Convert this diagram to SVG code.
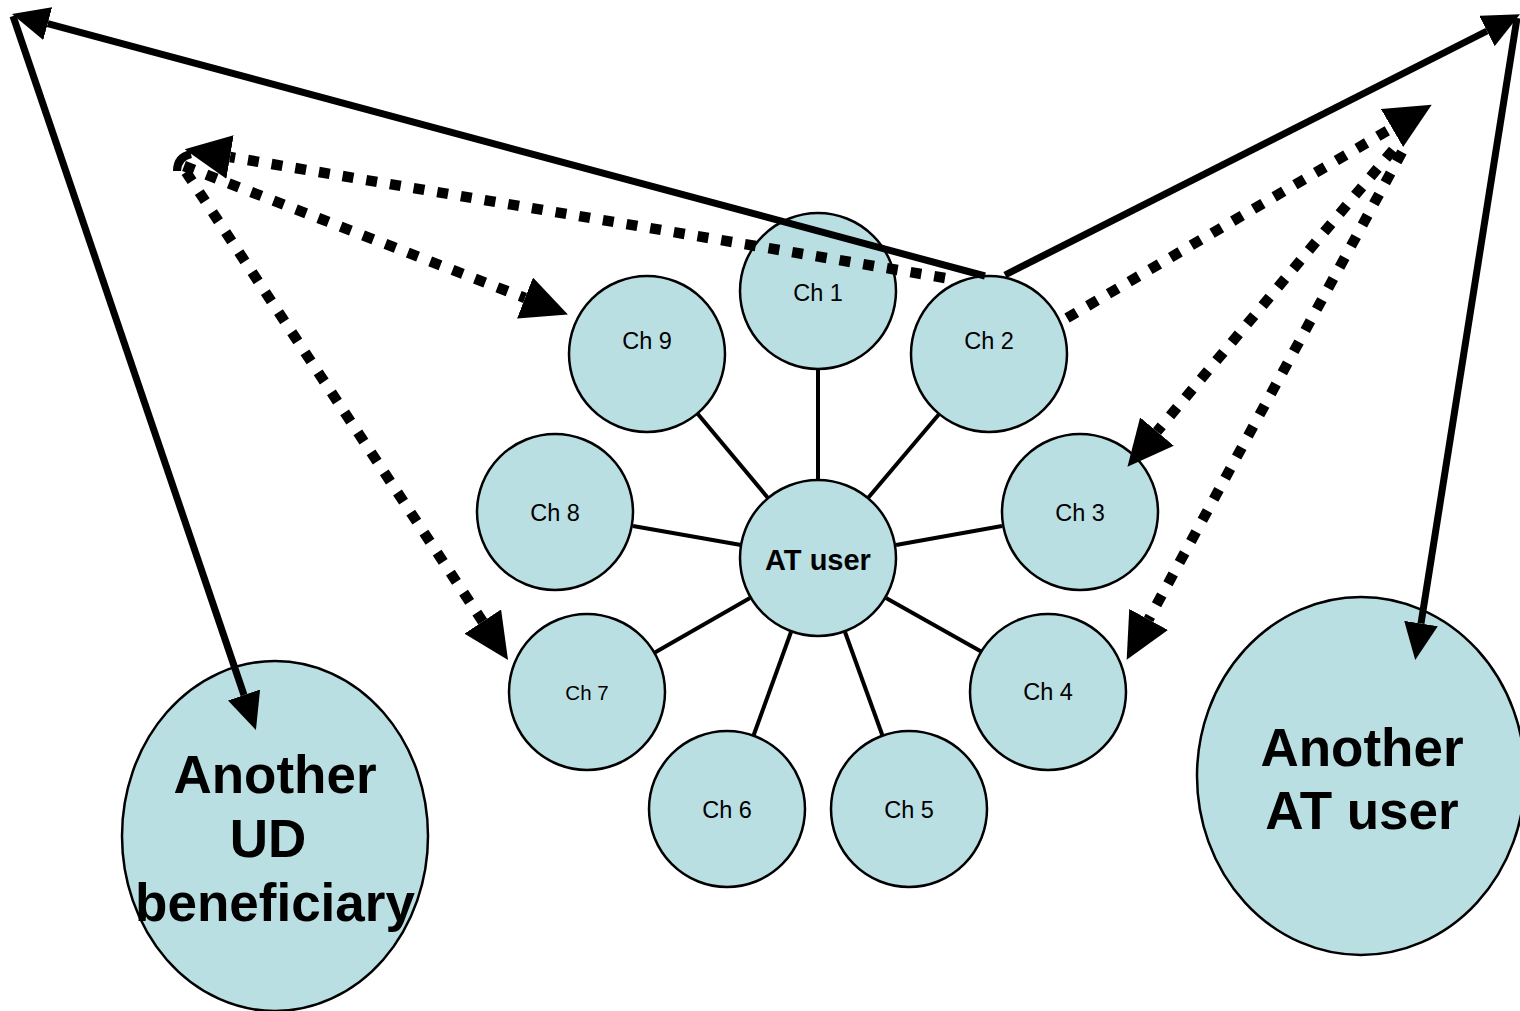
<svg xmlns="http://www.w3.org/2000/svg" width="1520" height="1011" viewBox="0 0 1520 1011">
<style>
.node{fill:#b9dfe2;stroke:#000;stroke-width:2.5}
.lbl{font-family:"Liberation Sans",Arial,sans-serif;font-size:23.5px;fill:#000;text-anchor:middle}
.big{font-family:"Liberation Sans",Arial,sans-serif;font-size:53px;font-weight:bold;fill:#000;text-anchor:middle}
.spoke{stroke:#000;stroke-width:4;fill:none}
.solid{stroke:#000;stroke-width:7;fill:none}
.dot{stroke:#000;stroke-width:10.5;fill:none;stroke-dasharray:11 13}
</style>
<defs>
<marker id="ah" markerUnits="userSpaceOnUse" orient="auto" markerWidth="37" markerHeight="34" viewBox="0 0 37 34" refX="0" refY="17"><path d="M0,0 L37,17 L0,34 Z" fill="#000"/></marker>
<marker id="ahd" markerUnits="userSpaceOnUse" orient="auto" markerWidth="46" markerHeight="44" viewBox="0 0 46 44" refX="0" refY="22"><path d="M0,0 L46,22 L0,44 Z" fill="#000"/></marker>
</defs>
<rect width="1520" height="1011" fill="#fff"/>
<g id="spokes">
<line class="spoke" x1="818" y1="369" x2="818" y2="480"/>
<line class="spoke" x1="940" y1="413" x2="868" y2="498"/>
<line class="spoke" x1="697" y1="413" x2="768" y2="498"/>
<line class="spoke" x1="633" y1="526" x2="741" y2="545"/>
<line class="spoke" x1="1002" y1="526" x2="896" y2="545"/>
<line class="spoke" x1="654" y1="653" x2="750" y2="598"/>
<line class="spoke" x1="982" y1="652" x2="886" y2="598"/>
<line class="spoke" x1="753" y1="737" x2="791" y2="632"/>
<line class="spoke" x1="883" y1="737" x2="845" y2="632"/>
</g>
<g id="ch1"><circle class="node" cx="818" cy="291" r="78"/><text class="lbl" x="818" y="301">Ch 1</text></g>
<g id="ch2"><circle class="node" cx="989" cy="354" r="78"/><text class="lbl" x="989" y="349">Ch 2</text></g>
<g id="ch9"><circle class="node" cx="647" cy="354" r="78"/><text class="lbl" x="647" y="349">Ch 9</text></g>
<g id="ch8"><circle class="node" cx="555" cy="512" r="78"/><text class="lbl" x="555" y="521">Ch 8</text></g>
<g id="ch3"><circle class="node" cx="1080" cy="512" r="78"/><text class="lbl" x="1080" y="521">Ch 3</text></g>
<g id="atuser"><circle class="node" cx="818" cy="558" r="78"/><text class="lbl" x="818" y="570" style="font-size:29px;font-weight:bold">AT user</text></g>
<g id="ch7"><circle class="node" cx="587" cy="692" r="78"/><text class="lbl" x="587" y="700" style="font-size:20.5px">Ch 7</text></g>
<g id="ch4"><circle class="node" cx="1048" cy="692" r="78"/><text class="lbl" x="1048" y="700">Ch 4</text></g>
<g id="ch6"><circle class="node" cx="727" cy="809" r="78"/><text class="lbl" x="727" y="818">Ch 6</text></g>
<g id="ch5"><circle class="node" cx="909" cy="809" r="78"/><text class="lbl" x="909" y="818">Ch 5</text></g>
<g id="ud"><ellipse class="node" cx="275" cy="836" rx="153" ry="175"/><text class="big" x="275" y="793">Another</text><text class="big" x="268" y="857">UD</text><text class="big" x="275" y="921">beneficiary</text></g>
<g id="at2"><ellipse class="node" cx="1361" cy="776" rx="164" ry="179"/><text class="big" x="1362" y="766">Another</text><text class="big" x="1362" y="829">AT user</text></g>
<g id="connectors">
<path class="solid" d="M985,276 L47.7,23.6" marker-end="url(#ah)"/>
<path class="solid" d="M13,16 L244,695" marker-end="url(#ah)"/>
<path class="solid" d="M1005,275 L1487,31" marker-end="url(#ah)"/>
<path class="solid" d="M1517,18 L1421,623.5" marker-end="url(#ah)"/>
<path class="dot" d="M1067,318 L1392,128" marker-end="url(#ahd)"/>
<path class="dot" d="M1393,150 L1157,431.5" marker-end="url(#ahd)"/>
<path class="dot" d="M1402,152 L1148.6,619.4" marker-end="url(#ahd)"/>
<path class="dot" d="M945,278 L230,157" marker-end="url(#ahd)"/>
<path class="dot" d="M184,166 L525,298" marker-end="url(#ahd)"/>
<path class="dot" d="M186,172 L482.7,621.6" marker-end="url(#ahd)"/>
<path d="M177,171 C177,161 182,156 191,154" stroke="#000" stroke-width="8" fill="none"/>
</g>
</svg>
